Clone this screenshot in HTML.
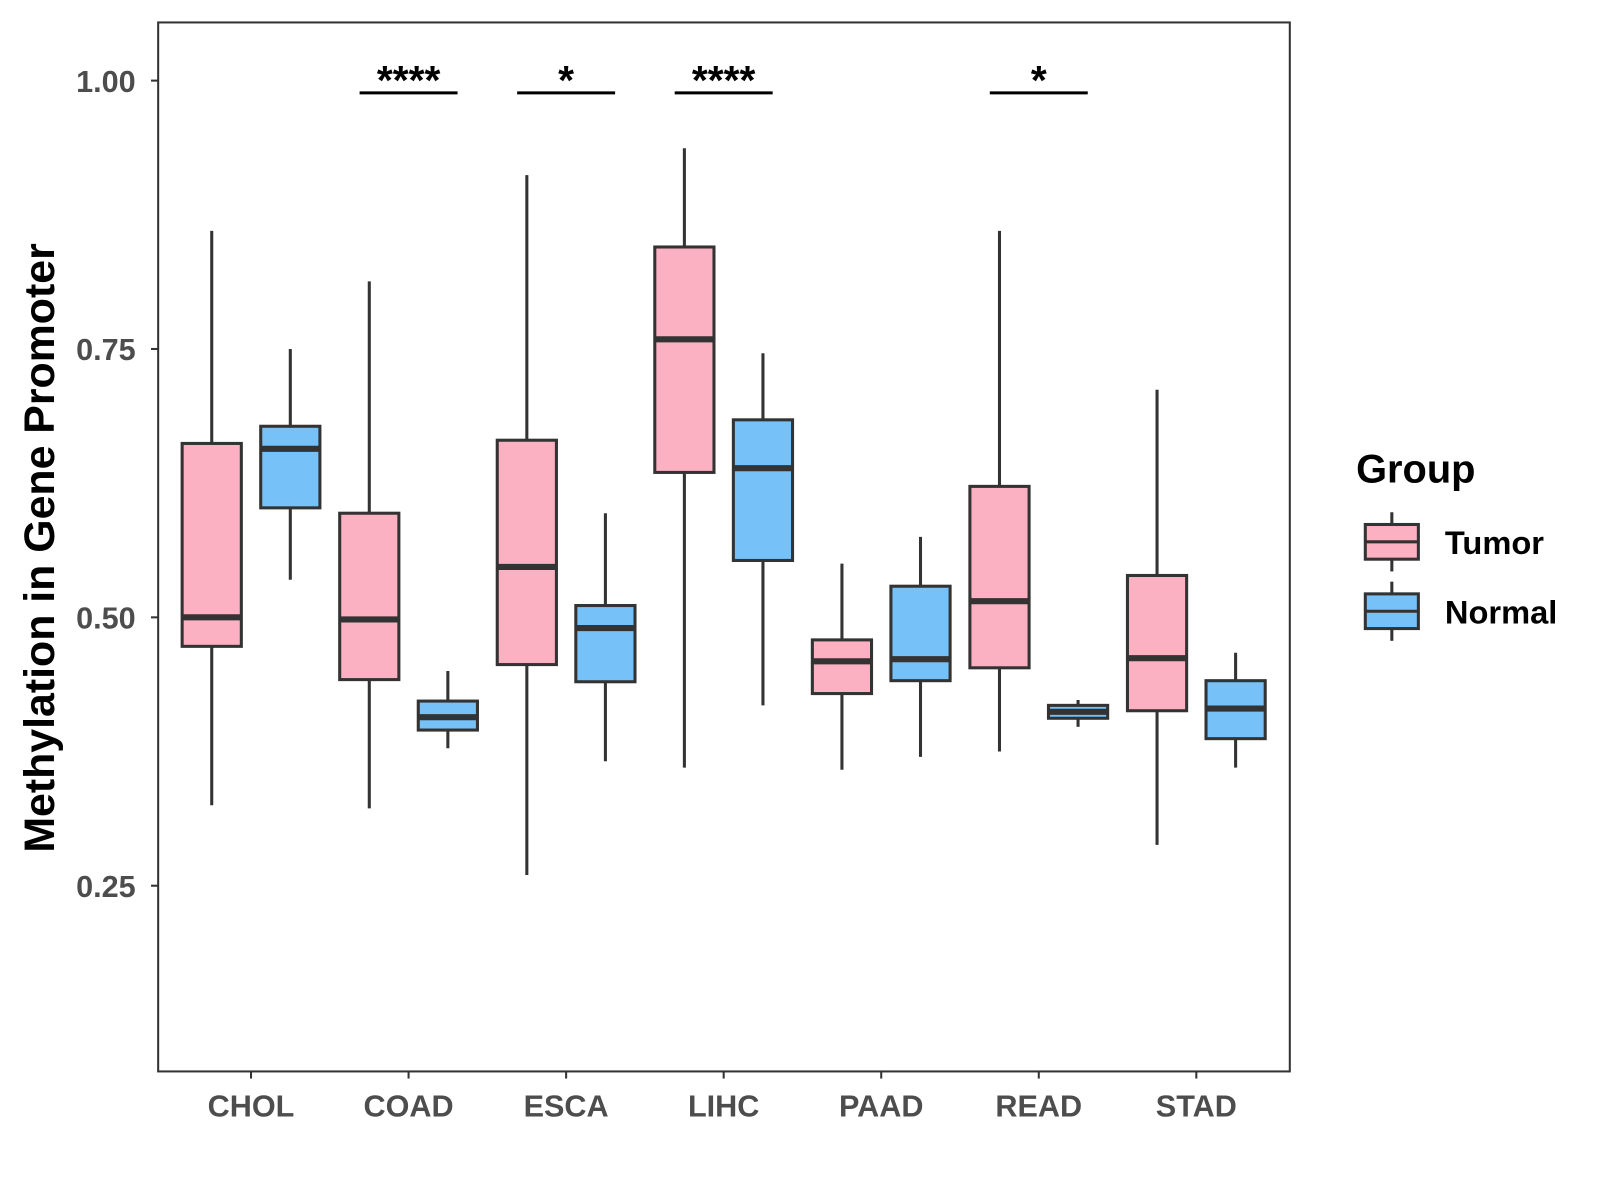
<!DOCTYPE html>
<html><head><meta charset="utf-8"><style>body{margin:0;background:#fff}svg{display:block}text{font-family:"Liberation Sans",Arial,sans-serif;font-weight:bold}</style></head>
<body>
<svg id="chart" width="1600" height="1200" viewBox="0 0 1568 1176" xmlns="http://www.w3.org/2000/svg">
<rect x="155" y="22" width="1109" height="1028" fill="#fff" stroke="#333" stroke-width="2"/>
<g id="marks"></g>
<text x="53" y="537" font-size="42" fill="#000" text-anchor="middle" transform="rotate(-90 53 537)">Methylation in Gene Promoter</text>
<text x="1329" y="473" font-size="39" fill="#000">Group</text>
<g>
<line x1="1364" y1="502" x2="1364" y2="560" stroke="#333" stroke-width="3"/>
<rect x="1338" y="514" width="52" height="34" fill="#fcb1c3" stroke="#333" stroke-width="3"/>
<line x1="1338" y1="531" x2="1390" y2="531" stroke="#333" stroke-width="3"/>
<text x="1416" y="543" font-size="32" fill="#000">Tumor</text></g>
<g>
<line x1="1364" y1="570" x2="1364" y2="628" stroke="#333" stroke-width="3"/>
<rect x="1338" y="582" width="52" height="34" fill="#75c1f8" stroke="#333" stroke-width="3"/>
<line x1="1338" y1="599" x2="1390" y2="599" stroke="#333" stroke-width="3"/>
<text x="1416" y="611" font-size="32" fill="#000">Normal</text></g>
</svg>
<script>
const categories=["CHOL","COAD","ESCA","LIHC","PAAD","READ","STAD"];
const tumorMin=[0.325,0.322,0.26,0.36,0.358,0.375,0.288];
const tumorQ1=[0.473,0.442,0.456,0.635,0.429,0.453,0.413];
const tumorMed=[0.50,0.498,0.547,0.759,0.459,0.515,0.462];
const tumorQ3=[0.662,0.597,0.665,0.845,0.479,0.622,0.539];
const tumorMax=[0.86,0.813,0.912,0.937,0.55,0.86,0.712];
const normalMin=[0.535,0.378,0.366,0.418,0.37,0.398,0.36];
const normalQ1=[0.602,0.395,0.44,0.553,0.441,0.406,0.387];
const normalMed=[0.657,0.407,0.49,0.639,0.461,0.412,0.415];
const normalQ3=[0.678,0.422,0.511,0.684,0.529,0.418,0.441];
const normalMax=[0.75,0.45,0.597,0.746,0.575,0.423,0.467];
const sigLabels=["","****","*","****","","*",""];
const yTicks=[0.25,0.50,0.75,1.00];
const yTickLabels=["0.25","0.50","0.75","1.00"];
const NS="http://www.w3.org/2000/svg";
const y=v=>605-(v-0.5)*1052;
const x=i=>246+i*154.4;
const g=document.getElementById('marks');
function mk(t,a){const e=document.createElementNS(NS,t);for(const k in a)e.setAttribute(k,a[k]);g.appendChild(e);return e;}
yTicks.forEach((v,i)=>{
 const l=mk('line',{x1:148,x2:155,y1:y(v),y2:y(v),stroke:'#333','stroke-width':2});
 
 
 const t=mk('text',{x:133,y:y(v)+11,'font-size':30,fill:'#4d4d4d','text-anchor':'end'});t.textContent=yTickLabels[i];
 
 
});
function box(cx,mn,q1,md,q3,mx,fill,name){
 const w=mk('line',{x1:cx,x2:cx,y1:y(mx),y2:y(mn),stroke:'#333','stroke-width':3});
 
 
 const r=mk('rect',{x:cx-29,y:y(q3),width:58,height:y(q1)-y(q3),fill:fill,stroke:'#333','stroke-width':3});
 
 
 const m=mk('line',{x1:cx-29,x2:cx+29,y1:y(md),y2:y(md),stroke:'#333','stroke-width':6});
 
 
}
categories.forEach((c,i)=>{
 const cx=x(i);
 box(cx-38.5,tumorMin[i],tumorQ1[i],tumorMed[i],tumorQ3[i],tumorMax[i],'#fcb1c3','tumor-'+c.toLowerCase());
 box(cx+38.5,normalMin[i],normalQ1[i],normalMed[i],normalQ3[i],normalMax[i],'#75c1f8','normal-'+c.toLowerCase());
 const tk=mk('line',{x1:cx,x2:cx,y1:1050,y2:1057,stroke:'#333','stroke-width':2});
 
 
 const t=mk('text',{x:cx,y:1094,'font-size':30,fill:'#4d4d4d','text-anchor':'middle'});t.textContent=c;
 
 
 if(sigLabels[i]){
  const b=mk('line',{x1:cx-48,x2:cx+48,y1:91,y2:91,stroke:'#000','stroke-width':3});
  
  
  const s=mk('text',{x:cx,y:92,'font-size':40,fill:'#000','text-anchor':'middle'});s.textContent=sigLabels[i];
  
  
 }
});
</script>
</body></html>
